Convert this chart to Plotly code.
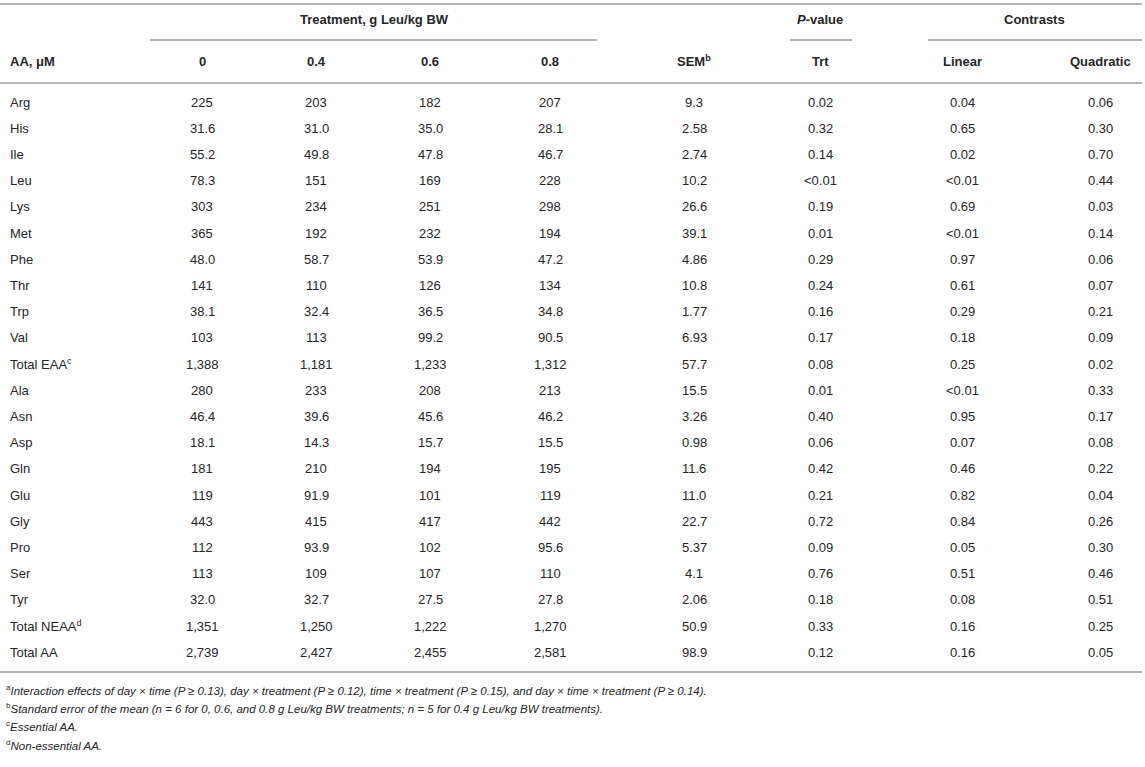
import plotly.graph_objects as go

# table contents
row_labels = ["Arg", "His", "Ile", "Leu", "Lys", "Met", "Phe", "Thr", "Trp", "Val",
              "Total EAA<sup>c</sup>", "Ala", "Asn", "Asp", "Gln", "Glu", "Gly", "Pro",
              "Ser", "Tyr", "Total NEAA<sup>d</sup>", "Total AA"]
trt_0 = ["225", "31.6", "55.2", "78.3", "303", "365", "48.0", "141", "38.1", "103",
         "1,388", "280", "46.4", "18.1", "181", "119", "443", "112", "113", "32.0",
         "1,351", "2,739"]
trt_04 = ["203", "31.0", "49.8", "151", "234", "192", "58.7", "110", "32.4", "113",
          "1,181", "233", "39.6", "14.3", "210", "91.9", "415", "93.9", "109", "32.7",
          "1,250", "2,427"]
trt_06 = ["182", "35.0", "47.8", "169", "251", "232", "53.9", "126", "36.5", "99.2",
          "1,233", "208", "45.6", "15.7", "194", "101", "417", "102", "107", "27.5",
          "1,222", "2,455"]
trt_08 = ["207", "28.1", "46.7", "228", "298", "194", "47.2", "134", "34.8", "90.5",
          "1,312", "213", "46.2", "15.5", "195", "119", "442", "95.6", "110", "27.8",
          "1,270", "2,581"]
sem = ["9.3", "2.58", "2.74", "10.2", "26.6", "39.1", "4.86", "10.8", "1.77", "6.93",
       "57.7", "15.5", "3.26", "0.98", "11.6", "11.0", "22.7", "5.37", "4.1", "2.06",
       "50.9", "98.9"]
p_trt = ["0.02", "0.32", "0.14", "<0.01", "0.19", "0.01", "0.29", "0.24", "0.16", "0.17",
         "0.08", "0.01", "0.40", "0.06", "0.42", "0.21", "0.72", "0.09", "0.76", "0.18",
         "0.33", "0.12"]
linear = ["0.04", "0.65", "0.02", "<0.01", "0.69", "<0.01", "0.97", "0.61", "0.29", "0.18",
          "0.25", "<0.01", "0.95", "0.07", "0.46", "0.82", "0.84", "0.05", "0.51", "0.08",
          "0.16", "0.16"]
quadratic = ["0.06", "0.30", "0.70", "0.44", "0.03", "0.14", "0.06", "0.07", "0.21", "0.09",
             "0.02", "0.33", "0.17", "0.08", "0.22", "0.04", "0.26", "0.30", "0.46", "0.51",
             "0.25", "0.05"]

col_headers = ["0", "0.4", "0.6", "0.8", "SEM<sup>b</sup>", "Trt", "Linear", "Quadratic"]
footnotes = [
    "<sup>a</sup><i>Interaction effects of day × time (P ≥ 0.13), day × treatment (P ≥ 0.12), "
    "time × treatment (P ≥ 0.15), and day × time × treatment (P ≥ 0.14).</i>",
    "<sup>b</sup><i>Standard error of the mean (n = 6 for 0, 0.6, and 0.8 g Leu/kg BW treatments; "
    "n = 5 for 0.4 g Leu/kg BW treatments).</i>",
    "<sup>c</sup><i>Essential AA.</i>",
    "<sup>d</sup><i>Non-essential AA.</i>",
]

columns = [trt_0, trt_04, trt_06, trt_08, sem, p_trt, linear, quadratic]
col_x = [202, 316, 430, 550, 694, 820, 962, 1100]

FONT = "Liberation Sans, Arial, sans-serif"
TXT = "#262626"
LINE = "#b4b4b4"

W, H = 1145, 767
row_y0, row_dy = 102, 26.2

ann = []

def add(text, x, y, size=13, bold=False, xanchor="center", color=TXT):
    if bold:
        text = "<b>" + text + "</b>"
    ann.append(dict(text=text, x=x, y=y, xref="x", yref="y", showarrow=False,
                    xanchor=xanchor, yanchor="middle",
                    font=dict(family=FONT, size=size, color=color)))

# header
add("Treatment, g Leu/kg BW", 374, 19, bold=True)
add("<i>P</i>-value", 820, 19, bold=True)
add("Contrasts", 1034, 19, bold=True)
add("AA, μM", 8, 61, bold=True, xanchor="left")
for h, x in zip(col_headers, col_x):
    add(h, x, 61, bold=True)

# body
for i, lab in enumerate(row_labels):
    y = row_y0 + i * row_dy
    add(lab, 8, y, xanchor="left")
    for col, x in zip(columns, col_x):
        add(col[i], x, y)

# footnotes
for i, fn in enumerate(footnotes):
    add(fn, 4, 690 + i * 18.2, size=11.5, xanchor="left")

lines = [(0, 1142, 4), (150, 597, 40), (790, 852, 40), (928, 1142, 40),
         (0, 1142, 83), (0, 1142, 672)]
shapes = [dict(type="line", xref="x", yref="y", x0=a, x1=b, y0=y, y1=y,
               line=dict(color=LINE, width=2)) for a, b, y in lines]

fig = go.Figure()
fig.add_trace(go.Scatter(x=[0, W], y=[0, H], mode="markers",
                         marker=dict(opacity=0), hoverinfo="skip", showlegend=False))
fig.update_layout(
    width=W, height=H,
    margin=dict(l=0, r=0, t=0, b=0),
    paper_bgcolor="white", plot_bgcolor="white",
    xaxis=dict(range=[0, W], visible=False, fixedrange=True),
    yaxis=dict(range=[H, 0], visible=False, fixedrange=True),
    annotations=ann, shapes=shapes,
)

fig.write_html("out.html", config={"displayModeBar": False},
               post_script="document.body.style.margin='0';")
